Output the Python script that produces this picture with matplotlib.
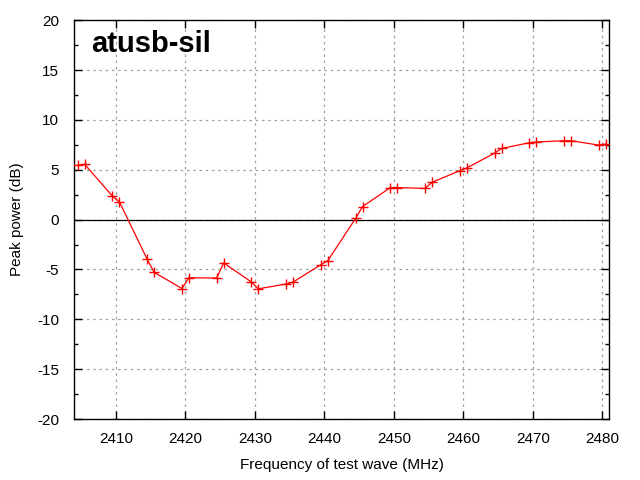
import numpy as np
import matplotlib
matplotlib.use("Agg")
import matplotlib.pyplot as plt
from matplotlib.ticker import MultipleLocator

plt.rcParams['font.family'] = ['Liberation Sans', 'DejaVu Sans']
plt.rcParams['axes.unicode_minus'] = False

# measured test-wave frequencies (MHz) and peak power (dB)
freq = [2404.5, 2405.5, 2409.5, 2410.5, 2414.5, 2415.5, 2419.5, 2420.5,
        2424.5, 2425.5, 2429.5, 2430.5, 2434.5, 2435.5, 2439.5, 2440.5,
        2444.5, 2445.5, 2449.5, 2450.5, 2454.5, 2455.5, 2459.5, 2460.5,
        2464.5, 2465.5, 2469.5, 2470.5, 2474.5, 2475.5, 2479.5, 2480.5]
power = [5.45, 5.55, 2.35, 1.78, -3.98, -5.29, -6.91, -5.83,
         -5.86, -4.34, -6.26, -6.94, -6.46, -6.26, -4.52, -4.11,
         0.13, 1.31, 3.21, 3.21, 3.13, 3.74, 4.91, 5.18,
         6.67, 7.13, 7.71, 7.78, 7.91, 7.91, 7.47, 7.58]
xticks = [2410, 2420, 2430, 2440, 2450, 2460, 2470, 2480]
yticks = [-20, -15, -10, -5, 0, 5, 10, 15, 20]

fig = plt.figure(figsize=(6.4, 4.8), dpi=100)
ax = fig.add_axes([0.116, 0.127, 0.836, 0.831])
ax.set_axisbelow(True)

ax.axhline(0, color='black', lw=0.9, zorder=2)
ax.plot(freq, power, color='red', lw=0.9, marker='+', ms=7, mew=1.0, zorder=3)

ax.set_xlim(2404, 2481)
ax.set_ylim(-20, 20)
ax.set_xticks(xticks)
ax.set_yticks(yticks)
ax.yaxis.set_minor_locator(MultipleLocator(2.5))
ax.tick_params(which='both', direction='in', top=True, right=True,
               labelsize=11, colors='black', width=1.0)
ax.tick_params(which='major', length=6)
ax.tick_params(which='minor', length=3)
ax.tick_params(axis='x', pad=9)
ax.tick_params(axis='y', pad=11)
ax.grid(True, which='major', color='#a0a0a0', ls=(0, (2, 3)), lw=0.9)
for s in ax.spines.values():
    s.set_linewidth(1.0)

ax.set_xlabel('Frequency of test wave (MHz)', fontsize=11, labelpad=9)
ax.set_ylabel('Peak power (dB)', fontsize=11, labelpad=9)

ax.text(0.031, 0.92, 'atusb-sil', transform=ax.transAxes, fontsize=21,
        fontweight='bold', va='baseline', ha='left')

fig.savefig('out.png', dpi=100)
